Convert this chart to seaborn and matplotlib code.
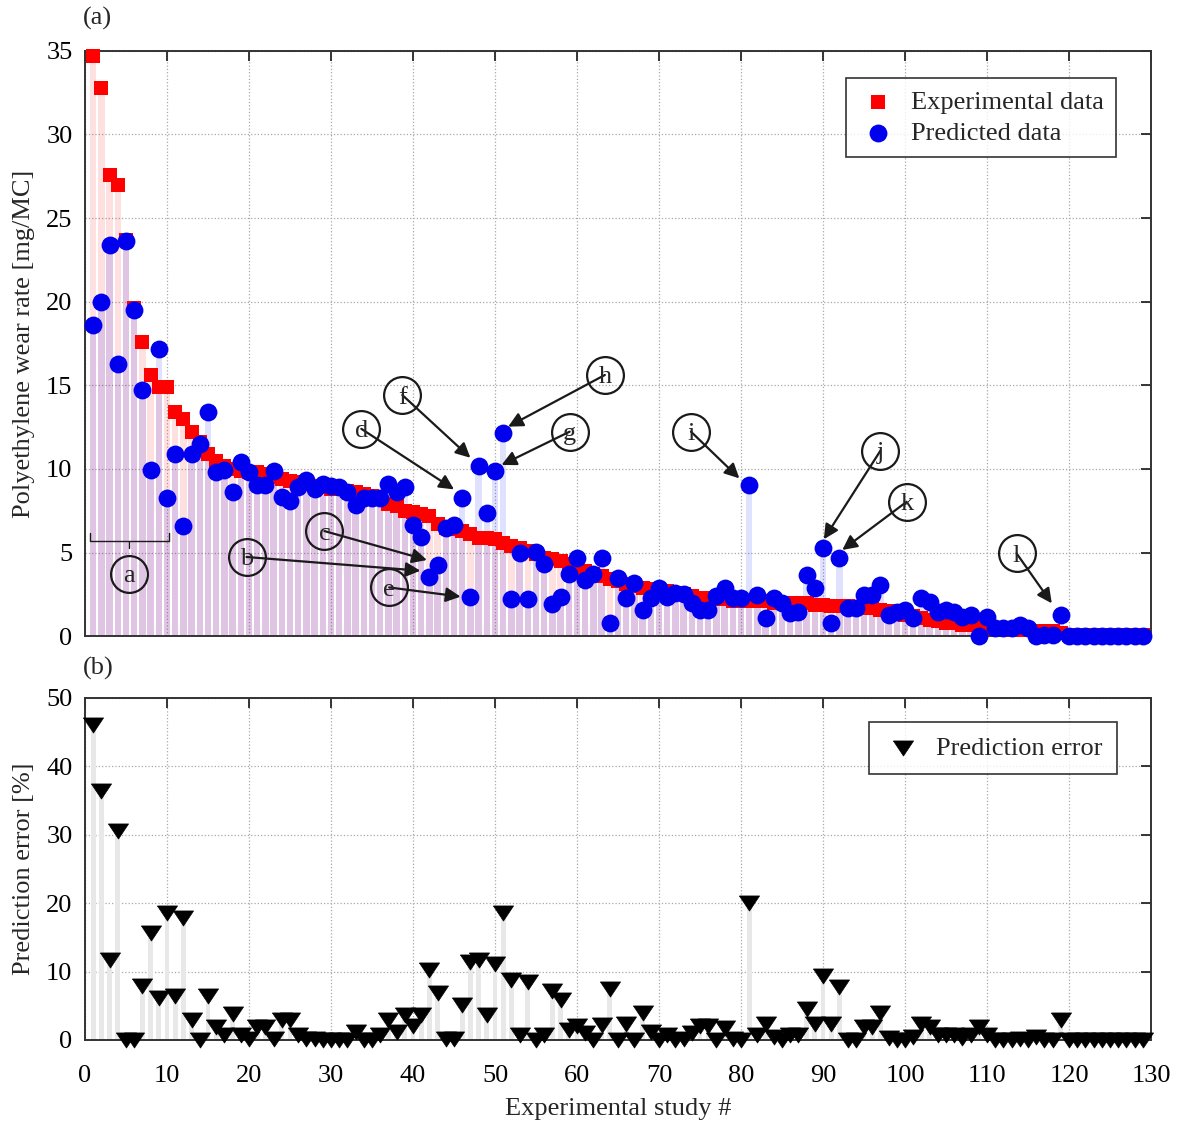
import numpy as np
import matplotlib
matplotlib.use("Agg")
import matplotlib.pyplot as plt
import seaborn as sns

# wear rate per experimental study, sorted by experimental value
study = list(range(1, 130))
experimental = [34.7, 32.8, 27.6, 27.0, 23.7, 19.6, 17.6, 15.6, 14.9, 14.9,
                13.4, 13.0, 12.2, 11.6, 10.9, 10.5, 10.2, 10.0, 9.9, 9.8,
                9.8, 9.7, 9.5, 9.4, 9.3, 9.2, 9.1, 9.0, 8.9, 8.8,
                8.8, 8.7, 8.6, 8.5, 8.4, 8.2, 7.9, 7.8, 7.5, 7.4,
                7.3, 7.2, 6.7, 6.5, 6.4, 6.3, 6.1, 5.9, 5.9, 5.8,
                5.6, 5.4, 5.3, 5.1, 4.9, 4.7, 4.6, 4.5, 4.3, 4.1,
                3.9, 3.7, 3.6, 3.4, 3.3, 3.1, 3.0, 2.9, 2.8, 2.7,
                2.7, 2.6, 2.5, 2.4, 2.3, 2.3, 2.2, 2.2, 2.1, 2.1,
                2.1, 2.1, 2.1, 2.0, 2.0, 2.0, 2.0, 2.0, 1.9, 1.9,
                1.8, 1.8, 1.8, 1.7, 1.7, 1.7, 1.6, 1.5, 1.4, 1.3,
                1.2, 1.1, 1.0, 0.9, 0.8, 0.8, 0.7, 0.7, 0.6, 0.5,
                0.5, 0.5, 0.4, 0.4, 0.4, 0.3, 0.3, 0.3, 0.2, 0.05,
                0.05, 0.05, 0.05, 0.05, 0.05, 0.05, 0.05, 0.05, 0.05]
predicted = [18.6, 20.0, 23.4, 16.3, 23.6, 19.5, 14.7, 9.95, 17.15, 8.25,
             10.9, 6.6, 10.9, 11.5, 13.4, 9.84, 9.94, 8.6, 10.4, 9.8,
             9.05, 9.05, 9.9, 8.35, 8.1, 8.95, 9.35, 8.8, 9.1, 9.0,
             8.95, 8.65, 7.85, 8.25, 8.25, 8.25, 9.1, 8.6, 8.95, 6.65,
             5.95, 3.55, 4.25, 6.45, 6.65, 8.25, 2.35, 10.15, 7.35, 9.85,
             12.15, 2.25, 4.95, 2.25, 5.05, 4.35, 1.95, 2.35, 3.75, 4.65,
             3.35, 3.75, 4.65, 0.78, 3.5, 2.27, 3.17, 1.57, 2.3, 2.87,
             2.37, 2.6, 2.5, 2.0, 1.6, 1.6, 2.4, 2.87, 2.27, 2.27,
             9.05, 2.47, 1.07, 2.27, 1.97, 1.37, 1.47, 3.66, 2.87, 5.26,
             0.78, 4.66, 1.67, 1.67, 2.47, 2.47, 3.06, 1.27, 1.47, 1.57,
             1.07, 2.27, 2.07, 1.47, 1.57, 1.47, 1.17, 1.27, 0.0, 1.17,
             0.48, 0.48, 0.48, 0.68, 0.48, 0.0, 0.08, 0.08, 1.27, 0.0,
             0.0, 0.0, 0.0, 0.0, 0.0, 0.0, 0.0, 0.0, 0.0]
error_pct = [46.0, 36.4, 11.7, 30.6, 0.0, 0.0, 7.9, 15.7, 6.1, 18.6,
             6.4, 17.8, 2.9, 0.0, 6.5, 1.85, 0.7, 3.8, 0.7, 0.2,
             1.85, 1.85, 0.1, 2.9, 2.9, 0.8, 0.2, 0.1, 0.0, 0.0,
             0.0, 0.0, 1.2, 0.0, 0.0, 0.7, 2.9, 1.2, 3.65, 2.0,
             3.65, 10.3, 6.8, 0.2, 0.2, 5.1, 11.45, 11.7, 3.65, 11.1,
             18.5, 8.8, 0.7, 8.5, 0.0, 0.7, 7.1, 5.9, 1.5, 2.0,
             1.0, 0.0, 2.2, 7.4, 0.0, 2.4, 0.0, 3.9, 1.2, 0.0,
             0.7, 0.0, 0.2, 1.0, 2.0, 2.0, 0.0, 1.8, 0.2, 0.0,
             20.0, 0.8, 2.3, 0.5, 0.0, 0.8, 0.8, 4.6, 2.3, 9.3,
             2.3, 7.8, 0.0, 0.0, 1.9, 1.9, 3.9, 0.3, 0.0, 0.0,
             0.5, 2.3, 1.9, 0.7, 0.7, 0.7, 0.3, 0.8, 1.9, 0.7,
             0.0, 0.0, 0.0, 0.2, 0.0, 0.5, 0.0, 0.0, 2.9, 0.0,
             0.0, 0.0, 0.0, 0.0, 0.0, 0.0, 0.0, 0.0, 0.0]

# callouts: label, circle position, arrow target
callout_labels = ["b", "c", "d", "e", "f", "g", "h", "i", "j", "k", "l"]
callout_xy = [(19.7, 4.74), (29.2, 6.29), (33.7, 12.4), (37.1, 2.92), (38.7, 14.42),
              (59.1, 12.23), (63.4, 15.62), (73.9, 12.23), (97.0, 11.09),
              (100.2, 8.04), (113.6, 4.96)]
callout_tip = [(40.9, 3.92), (41.7, 4.56), (45.0, 8.78), (45.8, 2.37), (47.0, 10.67),
               (50.8, 10.24), (51.6, 12.53), (79.8, 9.44), (90.1, 5.8),
               (92.35, 5.16), (117.9, 1.97)]
group_a_span = (0.6, 10.3)
group_a_label = (5.4, 3.73)

sns.set_theme(style="white")
plt.rcParams['font.family'] = ['Liberation Serif', 'DejaVu Serif']
FS = 19

fig = plt.figure(figsize=(11.84, 11.23), dpi=100)
W, H = 1184, 1123
ax1 = fig.add_axes([85 / W, 1 - 636.3 / H, 1066 / W, 585.6 / H])
ax2 = fig.add_axes([85 / W, 1 - 1040 / H, 1066 / W, 342 / H])

# --- (a) wear rate ---
ax1.bar(study, experimental, width=0.78, color=(1, 0, 0, 0.12), linewidth=0, zorder=1)
ax1.bar(study, predicted, width=0.78, color=(0, 0, 1, 0.12), linewidth=0, zorder=1)
sns.scatterplot(x=study, y=experimental, marker='s', color='red', s=95, linewidth=0,
                label='Experimental data', ax=ax1, zorder=3, clip_on=False)
sns.scatterplot(x=study, y=predicted, marker='o', color='#0000ee', s=165, linewidth=0,
                label='Predicted data', ax=ax1, zorder=4, clip_on=False)

ax1.set_xlim(0, 130)
ax1.set_ylim(0, 35)
ax1.set_xticks(range(0, 131, 10))
ax1.set_yticks(range(0, 36, 5))
ax1.tick_params(labelbottom=False)
ax1.set_ylabel("Polyethylene wear rate [mg/MC]", fontsize=FS)
ax1.yaxis.set_label_coords(-0.047, 0.5)

leg1 = ax1.legend(loc='upper right', bbox_to_anchor=(0.967, 0.953), borderaxespad=0,
                  fontsize=FS, frameon=True, fancybox=False, edgecolor='black',
                  handletextpad=0.5, borderpad=0.45, labelspacing=0.3, handlelength=1.5)
leg1.get_frame().set_linewidth(1.2)

# bracket for group a
x0, x1 = group_a_span
xm = group_a_label[0]
ax1.plot([x0, x0, x1, x1], [6.16, 5.71, 5.71, 6.16], color='k', lw=1, zorder=5)
ax1.plot([xm, xm], [5.71, 5.26], color='k', lw=1, zorder=5)
ax1.plot(*group_a_label, marker='o', ms=26.5, mfc='none', mec='k', mew=1.6, zorder=6)
ax1.text(*group_a_label, "a", ha='center', va='center_baseline', fontsize=FS, zorder=7)

for lab, (cx, cy), tip in zip(callout_labels, callout_xy, callout_tip):
    ax1.annotate("", xy=tip, xytext=(cx, cy),
                 arrowprops=dict(arrowstyle='-|>', color='k', lw=1.6,
                                 mutation_scale=22, shrinkA=0, shrinkB=0), zorder=6)
    ax1.plot(cx, cy, marker='o', ms=26.5, mfc='none', mec='k', mew=1.6, zorder=6)
    ax1.text(cx, cy, lab, ha='center', va='center_baseline', fontsize=FS, zorder=7)

# --- (b) prediction error ---
tri = [(-1.0, 0.75), (1.0, 0.75), (0.0, -0.75), (-1.0, 0.75)]
ax2.bar(study, error_pct, width=0.6, color='#e8e8e8', linewidth=0, zorder=1)
sns.scatterplot(x=study, y=error_pct, marker=tri, color='black', s=210, linewidth=0.5,
                edgecolor='black', label='Prediction error', ax=ax2, zorder=3, clip_on=False)
ax2.set_xlim(0, 130)
ax2.set_ylim(0, 50)
ax2.set_xticks(range(0, 131, 10))
ax2.set_yticks(range(0, 51, 10))
ax2.set_xlabel("Experimental study #", fontsize=FS, labelpad=8)
ax2.set_ylabel("Prediction error [%]", fontsize=FS)
ax2.yaxis.set_label_coords(-0.047, 0.5)
leg2 = ax2.legend(loc='upper right', bbox_to_anchor=(0.968, 0.93), borderaxespad=0,
                  fontsize=FS, frameon=True, fancybox=False, edgecolor='black',
                  handletextpad=0.5, borderpad=0.55, handlelength=1.5)
leg2.get_frame().set_linewidth(1.2)

for ax in (ax1, ax2):
    ax.grid(True, linestyle=':', color='#a8a8a8', linewidth=0.9)
    ax.set_axisbelow(True)
    ax.tick_params(direction='in', top=True, right=True, length=7, width=1.3,
                   labelsize=FS, pad=9, colors='#262626', labelcolor='black')
    for sp in ax.spines.values():
        sp.set_color('#333333')
        sp.set_linewidth(1.4)
ax2.tick_params(axis='x', pad=18)

fig.text(83 / W, 1 - 18 / H, "(a)", fontsize=FS, va='center', ha='left')
fig.text(83 / W, 1 - 668 / H, "(b)", fontsize=FS, va='center', ha='left')

fig.savefig("out.png", dpi=100)
